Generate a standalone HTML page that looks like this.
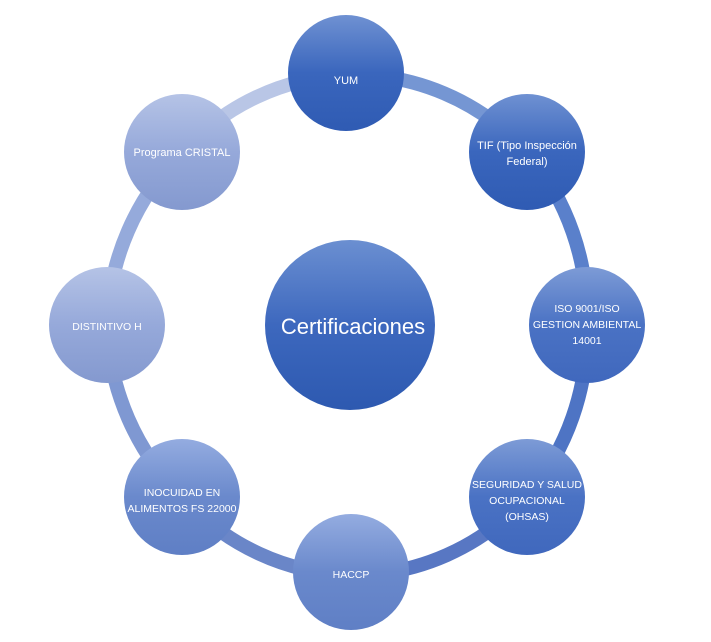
<!DOCTYPE html>
<html><head><style>
html,body{margin:0;padding:0;background:#fff;}
svg{display:block;}
text{font-family:"Liberation Sans",sans-serif;fill:#fff;text-anchor:middle;}
</style></head><body>
<svg width="711" height="642" viewBox="0 0 711 642" xmlns="http://www.w3.org/2000/svg">
<defs>
<linearGradient id="g1" x1="0" y1="0" x2="0" y2="1"><stop offset="0" stop-color="#6f91d2"/><stop offset="0.5" stop-color="#3a66bd"/><stop offset="1" stop-color="#2f5bb3"/></linearGradient>
<linearGradient id="g2" x1="0" y1="0" x2="0" y2="1"><stop offset="0" stop-color="#7d9bd6"/><stop offset="0.5" stop-color="#4a72c4"/><stop offset="1" stop-color="#4068bd"/></linearGradient>
<linearGradient id="g3" x1="0" y1="0" x2="0" y2="1"><stop offset="0" stop-color="#94ace0"/><stop offset="0.5" stop-color="#6a89cc"/><stop offset="1" stop-color="#5f7fc5"/></linearGradient>
<linearGradient id="g4" x1="0" y1="0" x2="0" y2="1"><stop offset="0" stop-color="#b5c3e6"/><stop offset="0.5" stop-color="#96a9da"/><stop offset="1" stop-color="#8499cf"/></linearGradient>
<linearGradient id="gc" x1="0" y1="0" x2="0" y2="1"><stop offset="0" stop-color="#6b8fd1"/><stop offset="0.5" stop-color="#3d68be"/><stop offset="1" stop-color="#2d59b0"/></linearGradient>
</defs>
<g fill="none" stroke-width="14">
<path d="M182 152 A240 250 0 0 1 346 75" stroke="#b9c6e6"/>
<path d="M346 75 A240 250 0 0 1 527 152" stroke="#7596d3"/>
<path d="M527 152 A240 250 0 0 1 587 325" stroke="#5a80cb"/>
<path d="M587 325 A240 250 0 0 1 527 497" stroke="#4e74c4"/>
<path d="M527 497 A240 250 0 0 1 351 575" stroke="#5877c3"/>
<path d="M351 575 A240 250 0 0 1 182 497" stroke="#6a86c8"/>
<path d="M182 497 A240 250 0 0 1 107 325" stroke="#7f98d2"/>
<path d="M107 325 A240 250 0 0 1 182 152" stroke="#95aadb"/>
</g>
<circle cx="350" cy="325" r="85" fill="url(#gc)"/>
<text x="353" y="334" font-size="22">Certificaciones</text>

<circle cx="346" cy="73" r="58" fill="url(#g1)"/>
<text x="346" y="84" font-size="11">YUM</text>

<circle cx="527" cy="152" r="58" fill="url(#g1)"/>
<text x="527" y="149" font-size="11">TIF (Tipo Inspección</text>
<text x="527" y="165" font-size="11">Federal)</text>

<circle cx="587" cy="325" r="58" fill="url(#g2)"/>
<text x="587" y="312" font-size="10.5">ISO 9001/ISO</text>
<text x="587" y="328" font-size="10.5">GESTION AMBIENTAL</text>
<text x="587" y="344" font-size="10.5">14001</text>

<circle cx="527" cy="497" r="58" fill="url(#g2)"/>
<text x="527" y="488" font-size="10.5">SEGURIDAD Y SALUD</text>
<text x="527" y="504" font-size="10.5">OCUPACIONAL</text>
<text x="527" y="520" font-size="10.5">(OHSAS)</text>

<circle cx="351" cy="572" r="58" fill="url(#g3)"/>
<text x="351" y="578" font-size="10.5">HACCP</text>

<circle cx="182" cy="497" r="58" fill="url(#g3)"/>
<text x="182" y="496" font-size="10.5">INOCUIDAD EN</text>
<text x="182" y="512" font-size="10.5">ALIMENTOS FS 22000</text>

<circle cx="107" cy="325" r="58" fill="url(#g4)"/>
<text x="107" y="330" font-size="10.5">DISTINTIVO H</text>

<circle cx="182" cy="152" r="58" fill="url(#g4)"/>
<text x="182" y="156" font-size="11">Programa CRISTAL</text>
</svg>
</body></html>
